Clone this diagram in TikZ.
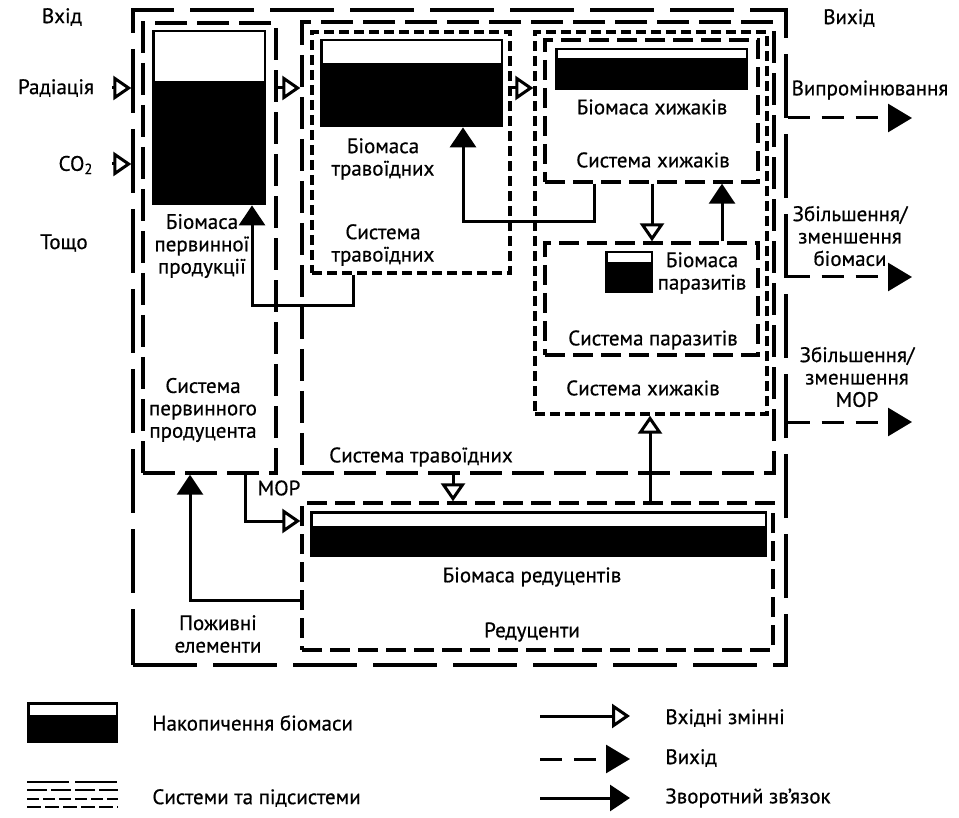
\documentclass[tikz,border=0pt]{standalone}
\usepackage{fontspec}
\setmainfont{PT Sans}[FakeBold=0.6]
\usepackage{tikz}
\usetikzlibrary{arrows.meta, fit, calc}

% biomass store: name, x1, y1, x2, y2, lower edge of the empty part
\newcommand{\biomass}[6]{%
  \node[biobox, fit={(#2,#3) (#4,#5)}] (#1) {};
  \fill[white] (#2+2.5,#3+2.5) rectangle (#4-2.5,#6);
}

\begin{document}
\begin{tikzpicture}[x=0.5pt, y=-0.5pt,
  txt/.style={font=\fontsize{10.5}{11.2}\selectfont, align=center, inner sep=0pt},
  sysO/.style={draw, line width=1.7pt, dash pattern=on 32pt off 8pt, inner sep=0pt},
  sysA/.style={draw, line width=1.7pt, dash pattern=on 16pt off 5pt, inner sep=0pt},
  sysB/.style={draw, line width=1.7pt, dash pattern=on 5pt off 2.5pt, inner sep=0pt},
  sysC/.style={draw, line width=1.7pt, dash pattern=on 10pt off 4pt, inner sep=0pt},
  biobox/.style={fill=black, inner sep=0pt},
  inarr/.style={line width=1.5pt, -{Triangle[open, length=9pt, width=12pt]}},
  fbarr/.style={line width=1.5pt, -{Triangle[length=10pt, width=13pt]}},
  outarr/.style={line width=1.5pt, dash pattern=on 11pt off 6pt, -{Triangle[length=12pt, width=14pt]}}]
\useasboundingbox (0,0) rectangle (959,818);

% systems and subsystems
\node[sysO, fit={(133,10) (786,665)}] (outer) {};
\node[sysA, fit={(143,23) (276,473)}] (prim) {};
\node[sysA, fit={(302,22) (774,473)}] (herbB) {};
\node[sysB, fit={(312,32) (510,273)}] (herbS) {};
\node[sysB, fit={(535,32) (767,414)}] (predB) {};
\node[sysC, fit={(545,40) (758,182)}] (predS) {};
\node[sysC, fit={(545,243) (758,355)}] (paraS) {};
\node[sysC, fit={(302,503) (773,650)}] (decomp) {};

% biomass stores
\biomass{bioPrim}{152}{30}{266}{205}{81}
\biomass{bioHerb}{320}{39}{503}{127}{63}
\biomass{bioPred}{555}{48}{748}{90}{58}
\biomass{bioPara}{605}{251}{653}{293}{262}
\biomass{bioDec}{310}{511}{767}{557}{526}

% texts
\node[txt] (lblIn) at (62,17) {Вхід};
\node[txt] (lblOut) at (849,18) {Вихід};
\node[txt] (lblRad) at (56,88) {Радіація};
\node[txt] (lblCO) at (76,165) {CO\textsubscript{2}};
\node[txt] (lblEtc) at (64,243) {Тощо};
\node[txt] (txtBioPrim) at (202,246) {Біомаса\\первинної\\продукції};
\node[txt] (txtPrim) at (203,410) {Система\\первинного\\продуцента};
\node[txt] (txtBioHerb) at (383,159) {Біомаса\\травоїдних};
\node[txt] (txtHerbS) at (383,245) {Система\\травоїдних};
\node[txt] (txtBioPred) at (652,107) {Біомаса хижаків};
\node[txt] (txtPredS) at (653,160) {Система хижаків};
\node[txt] (txtBioPara) at (702,273) {Біомаса\\паразитів};
\node[txt] (txtParaS) at (653,340) {Система паразитів};
\node[txt] (txtPredB) at (643,388) {Система хижаків};
\node[txt] (txtHerbB) at (421,457) {Система травоїдних};
\node[txt] (txtMor) at (279,488) {МОР};
\node[txt] (txtBioDec) at (532,577) {Біомаса редуцентів};
\node[txt] (txtNut) at (218,634) {Поживні\\елементи};
\node[txt] (txtDec) at (532,632) {Редуценти};
\node[txt] (txtRadOut) at (870,90) {Випромінювання};
\node[txt] (txtBioOut) at (850,236) {Збільшення/\\зменшення\\біомаси};
\node[txt] (txtMorOut) at (857,377) {Збільшення/\\зменшення\\МОР};

% connectors
\coordinate (radTail) at (112,88);
\coordinate (coTail) at (112,164);
\coordinate (fbA) at (353,306);
\coordinate (xPrim) at (252,0);
\coordinate (fbB) at (594,222);
\coordinate (xHerb) at (463,0);
\coordinate (xDown) at (652,0);
\coordinate (xUp) at (722,0);
\coordinate (xDec) at (453,0);
\coordinate (xPred) at (650,0);
\coordinate (morPt) at (245,521);
\coordinate (nutPt) at (190,600);
\coordinate (outA) at (912,118);
\coordinate (outB) at (912,277);
\coordinate (outC) at (912,422);

\draw[inarr] (radTail) -- (radTail -| outer.west);
\draw[inarr] (coTail) -- (coTail -| outer.west);
\draw[inarr] (radTail -| prim.east) -- (radTail -| herbB.west);
\draw[inarr] (radTail -| herbS.east) -- (radTail -| predB.west);
\draw[fbarr] (fbA |- herbS.south) -- (fbA) -| (xPrim |- bioPrim.south);
\draw[fbarr] (fbB |- predS.south) -- (fbB) -| (xHerb |- bioHerb.south);
\draw[inarr] (xDown |- predS.south) -- (xDown |- paraS.north);
\draw[fbarr] (xUp |- paraS.north) -- (xUp |- predS.south);
\draw[inarr] (xDec |- herbB.south) -- (xDec |- decomp.north);
\draw[inarr] (xPred |- decomp.north) -- (xPred |- predB.south);
\draw[inarr] (morPt |- prim.south) -- (morPt) -- (morPt -| decomp.west);
\draw[fbarr] (nutPt -| decomp.west) -- (nutPt) -- (nutPt |- prim.south);
\draw[outarr] (outA -| outer.east) -- (outA);
\draw[outarr] (outB -| outer.east) -- (outB);
\draw[outarr] (outC -| outer.east) -- (outC);

% legend
\biomass{lgBio}{27}{702}{118}{743}{715}
\draw[line width=1.4pt, dash pattern=on 21pt off 3pt] (27,782) -- (118,782);
\draw[line width=1.4pt, dash pattern=on 10pt off 2pt] (27,790) -- (118,790);
\draw[line width=1.4pt, dash pattern=on 6pt off 2pt] (27,799) -- (118,799);
\draw[line width=1.4pt, dash pattern=on 7pt off 2pt] (27,807) -- (118,807);
\node[txt, anchor=west] (lgTxtBio) at (152,723) {Накопичення біомаси};
\node[txt, anchor=west] (lgTxtSys) at (152,798) {Системи та підсистеми};

\coordinate (lgInA) at (540,716);
\coordinate (lgInB) at (630,716);
\coordinate (lgOutA) at (540,759);
\coordinate (lgOutB) at (630,759);
\coordinate (lgFbA) at (540,798);
\coordinate (lgFbB) at (630,798);
\draw[inarr] (lgInA) -- (lgInB);
\draw[outarr] (lgOutA) -- (lgOutB);
\draw[fbarr] (lgFbA) -- (lgFbB);
\node[txt, anchor=west] (lgTxtIn) at (665,718) {Вхідні змінні};
\node[txt, anchor=west] (lgTxtOut) at (665,758) {Вихід};
\node[txt, anchor=west] (lgTxtFb) at (665,798) {Зворотний зв’язок};
\end{tikzpicture}
\end{document}
